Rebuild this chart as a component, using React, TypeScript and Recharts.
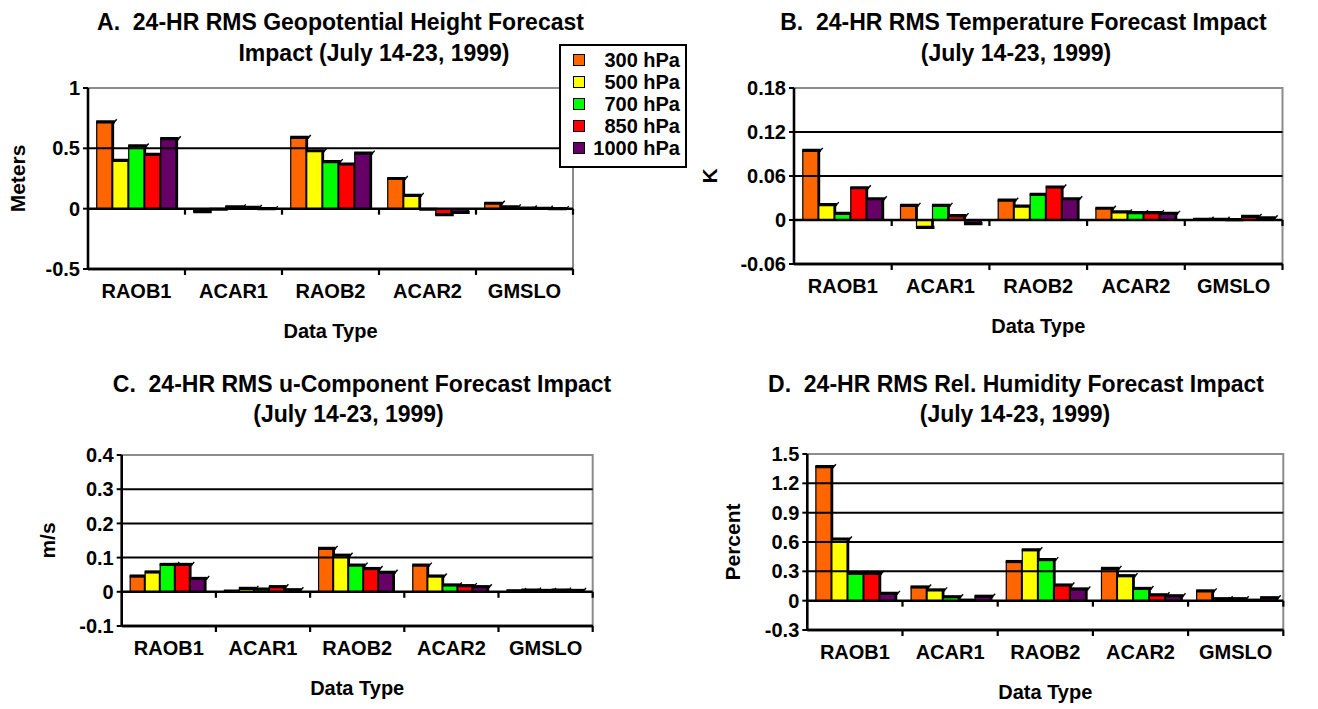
import React from "react";
import {
  BarChart,
  Bar,
  XAxis,
  YAxis,
  ReferenceLine,
  ReferenceArea,
  Legend,
} from "recharts";

const FONT = '"Liberation Sans", Arial, Helvetica, sans-serif';

const categories = ["RAOB1", "ACAR1", "RAOB2", "ACAR2", "GMSLO"];
const levels = ["300 hPa", "500 hPa", "700 hPa", "850 hPa", "1000 hPa"];
const levelKeys = ["p300", "p500", "p700", "p850", "p1000"];
const levelColors = ["#ff6600", "#ffff00", "#00ff00", "#ff0000", "#660066"];

// A. geopotential height (meters)
const heightTicks = [-0.5, 0, 0.5, 1];
const height300 = [0.72, -0.025, 0.59, 0.25, 0.045];
const height500 = [0.4, -0.005, 0.48, 0.11, 0.015];
const height700 = [0.52, 0.015, 0.39, -0.005, 0.005];
const height850 = [0.45, 0.01, 0.37, -0.05, 0.003];
const height1000 = [0.58, 0.0, 0.46, -0.03, 0.0];

// B. temperature (K)
const tempTicks = [-0.06, 0, 0.06, 0.12, 0.18];
const temp300 = [0.095, 0.02, 0.027, 0.016, 0.001];
const temp500 = [0.021, -0.01, 0.019, 0.011, 0.001];
const temp700 = [0.009, 0.02, 0.035, 0.01, 0.0005];
const temp850 = [0.044, 0.006, 0.045, 0.01, 0.005];
const temp1000 = [0.029, -0.005, 0.029, 0.009, 0.003];

// C. u-component (m/s)
const windTicks = [-0.1, 0, 0.1, 0.2, 0.3, 0.4];
const wind300 = [0.046, 0.002, 0.127, 0.078, 0.003];
const wind500 = [0.058, 0.01, 0.107, 0.046, 0.005];
const wind700 = [0.08, 0.008, 0.078, 0.02, 0.004];
const wind850 = [0.08, 0.015, 0.068, 0.018, 0.005];
const wind1000 = [0.039, 0.006, 0.057, 0.015, 0.004];

// D. relative humidity (percent)
const rhTicks = [-0.3, 0, 0.3, 0.6, 0.9, 1.2, 1.5];
const rh300 = [1.37, 0.14, 0.4, 0.33, 0.1];
const rh500 = [0.63, 0.11, 0.52, 0.255, 0.02];
const rh700 = [0.28, 0.04, 0.42, 0.125, 0.02];
const rh850 = [0.28, 0.005, 0.16, 0.06, 0.005];
const rh1000 = [0.075, 0.045, 0.12, 0.05, 0.03];

function buildRows(series: number[][]) {
  return categories.map((name, i) => {
    const row: Record<string, any> = { name };
    levelKeys.forEach((k, j) => {
      row[k] = series[j][i];
    });
    return row;
  });
}

const fmt = (v: number) => String(+v.toFixed(2));

// excel-ish bar with a dark "shadow" on top and right edge
function ShadowBar(props: any) {
  const { x, y, width, height, fill } = props;
  if (x == null || y == null) return null;
  const raw = Array.isArray(props.value) ? props.value[1] : props.value;
  const top = Math.min(y, y + height);
  const h = Math.abs(height);
  const w = width;
  const neg = raw < 0;
  const capY = neg ? top + h : top;
  return (
    <g>
      <rect x={x} y={top} width={w} height={h} fill={fill} stroke="#000" strokeWidth={1.2} />
      <line x1={x + w} y1={top} x2={x + w} y2={top + h} stroke="#000" strokeWidth={2.8} />
      <line x1={x - 0.5} y1={capY} x2={x + w + 2} y2={capY} stroke="#000" strokeWidth={3.2} />
      {!neg && (
        <path
          d={`M${x + w + 1},${capY + 1} L${x + w + 4},${capY - 2.5}`}
          stroke="#000"
          strokeWidth={1.4}
          fill="none"
        />
      )}
    </g>
  );
}

// horizontal line with tick marks at the category boundaries
function BoundaryLine(props: any) {
  const { x1, x2, y1 } = props;
  if (x1 == null) return null;
  const step = (x2 - x1) / categories.length;
  return (
    <g>
      <line x1={x1} x2={x2} y1={y1} y2={y1} stroke="#000" strokeWidth={2.5} />
      {categories.map((_, i) => (
        <line
          key={i}
          x1={x1 + step * (i + 1)}
          x2={x1 + step * (i + 1)}
          y1={y1}
          y2={y1 + 6}
          stroke="#000"
          strokeWidth={2.2}
        />
      ))}
    </g>
  );
}

function PlotFrame(props: any) {
  const { x, y, width, height } = props;
  if (x == null) return null;
  return (
    <path
      d={`M${x},${y} L${x + width},${y} L${x + width},${y + height}`}
      stroke="#8c8c8c"
      strokeWidth={2}
      fill="none"
    />
  );
}

// legend keeps the series order (300 -> 1000 hPa)
function LevelLegend() {
  return (
    <div
      style={{
        border: "2px solid #000",
        background: "#fff",
        padding: "3px 5px 7px 12px",
        boxSizing: "border-box",
        width: 128,
        fontFamily: FONT,
      }}
    >
      {levels.map((value, i) => (
        <div key={value} style={{ display: "flex", alignItems: "center", height: 22 }}>
          <span
            style={{
              width: 12,
              height: 12,
              background: levelColors[i],
              border: "1.5px solid #000",
              boxSizing: "border-box",
              display: "inline-block",
            }}
          />
          <span style={{ marginLeft: "auto", fontSize: 20, fontWeight: 700, color: "#000" }}>
            {value}
          </span>
        </div>
      ))}
    </div>
  );
}

interface PanelProps {
  rows: Record<string, any>[];
  ticks: number[];
  yLabel: string;
  box: { left: number; top: number; width: number; height: number };
  plot: { left: number; right: number; top: number; bottom: number };
  yLabelX: number;
  legend?: { left: number; top: number };
}

const X_AXIS_H = 72;
const tickStyle = { fill: "#000", fontSize: 20, fontWeight: 700, fontFamily: FONT };
const labelStyle = { textAnchor: "middle", fontSize: 20, fontWeight: 700, fill: "#000", fontFamily: FONT };
const yLabelStyle = { ...labelStyle, fontSize: 21 };

function Panel({ rows, ticks, yLabel, box, plot, yLabelX, legend }: PanelProps) {
  const min = ticks[0];
  const max = ticks[ticks.length - 1];
  const inner = ticks.filter((t) => t !== min && t !== max && t !== 0);
  return (
    <div style={{ position: "absolute", left: box.left, top: box.top }}>
      <BarChart
        width={box.width}
        height={box.height}
        data={rows}
        margin={{
          top: plot.top,
          left: 0,
          right: box.width - plot.right,
          bottom: box.height - plot.bottom - X_AXIS_H,
        }}
        barCategoryGap="9%"
        barGap={0}
        style={{ fontFamily: FONT }}
      >
        <ReferenceArea y1={min} y2={max} shape={PlotFrame} ifOverflow="visible" />
        {inner.map((t) => (
          <ReferenceLine key={t} y={t} stroke="#000" strokeWidth={2} />
        ))}
        {levelKeys.map((k, j) => (
          <Bar
            key={k}
            dataKey={k}
            name={levels[j]}
            fill={levelColors[j]}
            shape={ShadowBar}
            isAnimationActive={false}
          />
        ))}
        <ReferenceLine y={0} shape={BoundaryLine} />
        <ReferenceLine y={min} shape={BoundaryLine} ifOverflow="visible" />
        <XAxis
          dataKey="name"
          height={X_AXIS_H}
          tickLine={false}
          tickSize={0}
          tickMargin={15}
          axisLine={{ stroke: "#000", strokeWidth: 2.5 }}
          tick={tickStyle}
          interval={0}
          label={{ value: "Data Type", position: "insideBottom", offset: 3, style: labelStyle }}
        />
        <YAxis
          type="number"
          domain={[min, max]}
          ticks={ticks}
          interval={0}
          allowDataOverflow
          width={plot.left}
          tickFormatter={fmt}
          tickSize={5}
          tickMargin={3}
          tickLine={{ stroke: "#000", strokeWidth: 2 }}
          axisLine={{ stroke: "#000", strokeWidth: 2.6 }}
          tick={tickStyle}
          label={{
            value: yLabel,
            angle: -90,
            position: "insideLeft",
            offset: yLabelX,
            style: yLabelStyle,
          }}
        />
        {legend && (
          <Legend
            layout="vertical"
            align="center"
            verticalAlign="middle"
            content={<LevelLegend />}
            wrapperStyle={{ left: legend.left, top: legend.top, width: 128, zIndex: 5 }}
          />
        )}
      </BarChart>
    </div>
  );
}

const titleStyle: React.CSSProperties = {
  fontFamily: FONT,
  fontSize: 23,
  fontWeight: 700,
  fill: "#000",
  whiteSpace: "pre",
};

export default function App() {
  return (
    <div
      style={{
        position: "absolute",
        left: 0,
        top: 0,
        width: 1318,
        height: 709,
        background: "#fff",
        overflow: "hidden",
      }}
    >
      <Panel
        rows={buildRows([height300, height500, height700, height850, height1000])}
        ticks={heightTicks}
        yLabel="Meters"
        box={{ left: 0, top: 0, width: 659, height: 355 }}
        plot={{ left: 88, right: 573, top: 88, bottom: 269 }}
        yLabelX={18}
        legend={{ left: 559, top: 44 }}
      />
      <Panel
        rows={buildRows([temp300, temp500, temp700, temp850, temp1000])}
        ticks={tempTicks}
        yLabel="K"
        box={{ left: 640, top: 0, width: 678, height: 355 }}
        plot={{ left: 154, right: 642.5, top: 88, bottom: 264 }}
        yLabelX={70}
      />
      <Panel
        rows={buildRows([wind300, wind500, wind700, wind850, wind1000])}
        ticks={windTicks}
        yLabel="m/s"
        box={{ left: 0, top: 355, width: 659, height: 354 }}
        plot={{ left: 121.7, right: 592.7, top: 100, bottom: 271 }}
        yLabelX={48}
      />
      <Panel
        rows={buildRows([rh300, rh500, rh700, rh850, rh1000])}
        ticks={rhTicks}
        yLabel="Percent"
        box={{ left: 640, top: 355, width: 678, height: 354 }}
        plot={{ left: 167.3, right: 643.3, top: 99, bottom: 275 }}
        yLabelX={93}
      />
      <svg
        width={1318}
        height={709}
        style={{ position: "absolute", left: 0, top: 0, pointerEvents: "none", zIndex: 10 }}
      >
        <text x={340.5} y={30} textAnchor="middle" style={titleStyle}>
          {"A.  24-HR RMS Geopotential Height Forecast"}
        </text>
        <text x={374} y={61} textAnchor="middle" style={titleStyle}>
          Impact (July 14-23, 1999)
        </text>
        <text x={1023.5} y={30} textAnchor="middle" style={titleStyle}>
          {"B.  24-HR RMS Temperature Forecast Impact"}
        </text>
        <text x={1016} y={61} textAnchor="middle" style={titleStyle}>
          (July 14-23, 1999)
        </text>
        <text x={362} y={392} textAnchor="middle" style={titleStyle}>
          {"C.  24-HR RMS u-Component Forecast Impact"}
        </text>
        <text x={348.5} y={422} textAnchor="middle" style={titleStyle}>
          (July 14-23, 1999)
        </text>
        <text x={1016} y={392} textAnchor="middle" style={titleStyle}>
          {"D.  24-HR RMS Rel. Humidity Forecast Impact"}
        </text>
        <text x={1015} y={422} textAnchor="middle" style={titleStyle}>
          (July 14-23, 1999)
        </text>
      </svg>
    </div>
  );
}
